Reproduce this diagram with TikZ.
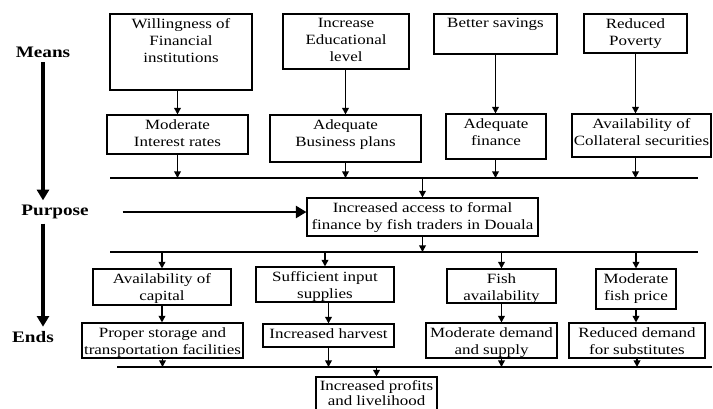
\documentclass[tikz,border=0pt]{standalone}
\usepackage{fontspec}
\setmainfont{Liberation Serif}[FakeStretch=1.2]
\usetikzlibrary{arrows.meta,fit}

\tikzset{
  box/.style={draw, line width=0.8pt, inner sep=0pt},
  txt/.style={anchor=north, align=center, inner sep=1.5pt, yshift=-2pt, font=\fontsize{10.6}{12.75}\selectfont},
  arr/.style={line width=1.2pt, -{Triangle[length=5pt,width=5pt]}},
  bus/.style={line width=1.2pt},
  side/.style={font=\fontsize{12}{13}\selectfont\bfseries},
  bigarr/.style={line width=3pt, -{Triangle[length=8pt,width=9pt]}}
}

\begin{document}
\begin{tikzpicture}[x=0.75pt, y=-0.75pt]
    \useasboundingbox (0,0) rectangle (713,408);

    % Side labels
    \node[side] (means) at (43,52) {Means};
    \node[side] (purp) at (55,212) {Purpose};
    \node[side] (ends) at (33,337) {Ends};
    \draw[bigarr] (means.south) -- (means.south |- purp.north);
    \draw[bigarr] (means.south |- purp.south) -- (means.south |- ends.north);

    % Means
    \node[box, fit={(110,14) (252,90)}, label={[txt]north:Willingness of\\Financial\\institutions}] (will) {};
    \node[box, fit={(283,14) (409,69)}, label={[txt]north:Increase\\Educational\\level}] (educ) {};
    \node[box, fit={(434,14) (557,54)}, label={[txt]north:Better savings}] (save) {};
    \node[box, fit={(584,14) (687,53)}, label={[txt]north:Reduced\\Poverty}] (pov) {};

    \node[box, fit={(107,115) (248,154)}, label={[txt]north:Moderate\\Interest rates}] (rate) {};
    \node[box, fit={(270,115) (421,162)}, label={[txt]north:Adequate\\Business plans}] (plan) {};
    \node[box, fit={(446,114) (546,159)}, label={[txt]north:Adequate\\finance}] (fin) {};
    \node[box, fit={(572,114) (711,157)}, label={[txt]north:Availability of\\Collateral securities}] (coll) {};

    \draw[arr] (rate |- will.south) -- (rate.north);
    \draw[arr] (plan |- educ.south) -- (plan.north);
    \draw[arr] (save.south) -- (save.south |- fin.north);
    \draw[arr] (pov.south) -- (pov.south |- coll.north);

    % First bus
    \coordinate (b1w) at (110,178);
    \coordinate (b1e) at (698,178);
    \draw[bus] (b1w) -- (b1e);
    \draw[arr] (rate.south) -- (rate.south |- b1w);
    \draw[arr] (plan.south) -- (plan.south |- b1w);
    \draw[arr] (save.south |- fin.south) -- (save.south |- b1w);
    \draw[arr] (pov.south |- coll.south) -- (pov.south |- b1w);

    % Purpose
    \node[box, fit={(307,198) (538,236)}, label={[txt]north:Increased access to formal\\finance by fish traders in Douala}] (acc) {};
    \draw[arr] (acc.north |- b1w) -- (acc.north);
    \draw[bigarr, line width=2.2pt] ([xshift=22pt]purp.east) -- (purp.east -| acc.west);

    % Second bus
    \coordinate (b2w) at (110,252);
    \coordinate (b2e) at (698,252);
    \draw[bus] (b2w) -- (b2e);
    \draw[arr] (acc.south) -- (acc.south |- b2w);

    % Ends
    \node[box, fit={(93,269) (231,305)}, label={[txt]north:Availability of\\capital}] (cap) {};
    \node[box, fit={(256,267) (394,302)}, label={[txt]north:Sufficient input\\supplies}] (input) {};
    \node[box, fit={(447,269) (556,303)}, label={[txt]north:Fish\\availability}] (fish) {};
    \node[box, fit={(596,269) (676,309)}, label={[txt]north:Moderate\\fish price}] (price) {};

    \draw[arr] (cap.north |- b2w) -- (cap.north);
    \draw[arr] (input.north |- b2w) -- (input.north);
    \draw[arr] (fish.north |- b2w) -- (fish.north);
    \draw[arr] (price.north |- b2w) -- (price.north);

    \node[box, fit={(82,323) (243,358)}, label={[txt]north:Proper storage and\\transportation facilities}] (store) {};
    \node[box, fit={(263,324) (394,347)}, label={[txt]north:Increased harvest}] (harv) {};
    \node[box, fit={(426,323) (557,358)}, label={[txt]north:Moderate demand\\and supply}] (dem) {};
    \node[box, fit={(569,323) (705,358)}, label={[txt]north:Reduced demand\\for substitutes}] (subst) {};

    \draw[arr] (cap.south) -- (cap.south |- store.north);
    \draw[arr] (harv |- input.south) -- (harv.north);
    \draw[arr] (fish.south) -- (fish.south |- dem.north);
    \draw[arr] (price.south) -- (price.south |- subst.north);

    % Third bus
    \coordinate (b3w) at (117,367);
    \coordinate (b3e) at (712,367);
    \draw[bus] (b3w) -- (b3e);
    \draw[arr] (store.south) -- (store.south |- b3w);
    \draw[arr] (harv.south) -- (harv.south |- b3w);
    \draw[arr] (fish.south |- dem.south) -- (fish.south |- b3w);
    \draw[arr] (subst.south) -- (subst.south |- b3w);

    \node[box, fit={(316,377) (437,410)}, label={[txt, yshift=1pt, font=\fontsize{10.6}{11.5}\selectfont]north:Increased profits\\and livelihood}] (prof) {};
    \draw[arr] (prof.north |- b3w) -- (prof.north);
\end{tikzpicture}
\end{document}
